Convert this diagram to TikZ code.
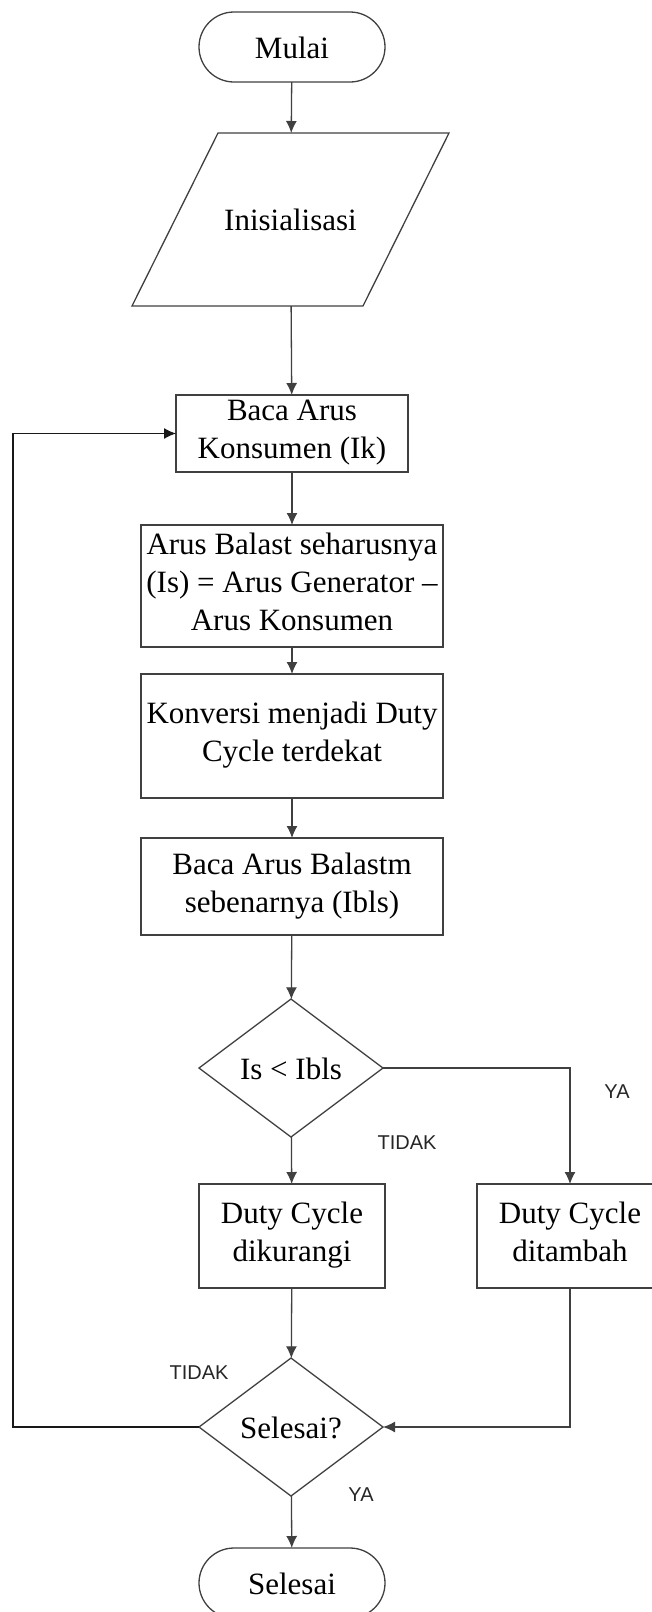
\documentclass[tikz,border=0pt]{standalone}
\usepackage{fontspec}
\setmainfont{Liberation Serif}
\setsansfont{Liberation Sans}
\usetikzlibrary{arrows.meta,shapes.geometric}
\tikzset{proc/.style={draw=black!75,line width=1.3pt,rectangle,align=center,inner sep=1pt,outer sep=0pt,font=\fontsize{31}{38}\selectfont,
    execute at begin node=\rule{0pt}{30pt},execute at end node=\rule[-8pt]{0pt}{8pt}}}
\tikzset{term/.style={proc,rounded corners=35pt,minimum width=186pt,minimum height=70pt}}
\tikzset{dec/.style={proc,diamond,aspect=1.33,minimum width=184pt,minimum height=138pt,inner sep=0pt}}
\tikzset{io/.style={proc,draw=none,minimum width=231pt,minimum height=173pt}}
\tikzstyle{lbl}=[font=\sffamily\fontsize{20}{24}\selectfont,text=black!85]

\begin{document}
\begin{tikzpicture}[x=1pt,y=-1pt,>={Latex[length=12pt,width=11pt]},line width=1.3pt,draw=black!75]
    \useasboundingbox (0,0) rectangle (651,1612);
    \node [term] (mulai) at (292,47) {Mulai};
    \node [io] (init) at (290.5,219.5) {Inisialisasi};
    \draw ([xshift=43pt]init.north west) -- ([xshift=43pt]init.north east)
       -- ([xshift=-43pt]init.south east) -- ([xshift=-43pt]init.south west) -- cycle;
    \node [proc,minimum width=232pt,minimum height=77pt] (baca) at (292,433.5) {Baca Arus\\Konsumen (Ik)};
    \node [proc,minimum width=302pt,minimum height=122pt] (balast) at (292,586) {Arus Balast seharusnya\\(Is) = Arus Generator --\\Arus Konsumen};
    \node [proc,minimum width=302pt,minimum height=124pt] (konv) at (292,736) {Konversi menjadi Duty\\Cycle terdekat};
    \node [proc,minimum width=302pt,minimum height=97pt] (ibls) at (292,886.5) {Baca Arus Balastm\\sebenarnya (Ibls)};
    \node [dec] (cek) at (291,1068) {Is < Ibls};
    \node [proc,minimum width=186pt,minimum height=104pt] (kurang) at (292,1236) {Duty Cycle\\dikurangi};
    \node [proc,minimum width=186pt,minimum height=104pt] (tambah) at (570,1236) {Duty Cycle\\ditambah};
    \node [dec] (selesai) at (291,1427) {Selesai?};
    \node [term] (akhir) at (292,1583) {Selesai};
    % labels
    \node [lbl] (ya1) at (617,1092) {YA};
    \node [lbl] (tidak1) at (407,1143) {TIDAK};
    \node [lbl] (tidak2) at (199,1373) {TIDAK};
    \node [lbl] (ya2) at (361,1495) {YA};
    \coordinate (balik) at (13,1427);
    \path[->] (mulai) edge node {} (init);
    \path[->] (init) edge node {} (baca);
    \path[->] (baca) edge node {} (balast);
    \path[->] (balast) edge node {} (konv);
    \path[->] (konv) edge node {} (ibls);
    \path[->] (ibls) edge node {} (cek);
    \path[->] (cek) edge node {} (kurang);
    \path[->] (kurang) edge node {} (selesai);
    \path[->] (selesai) edge node {} (akhir);
    \draw[->] (cek.east) -| (tambah.north);
    \draw[->] (tambah.south) |- (selesai.east);
    \draw[->,draw=black!90,line width=1.1pt] (selesai.west) -- (balik) |- (baca.west);
\end{tikzpicture}
\end{document}
